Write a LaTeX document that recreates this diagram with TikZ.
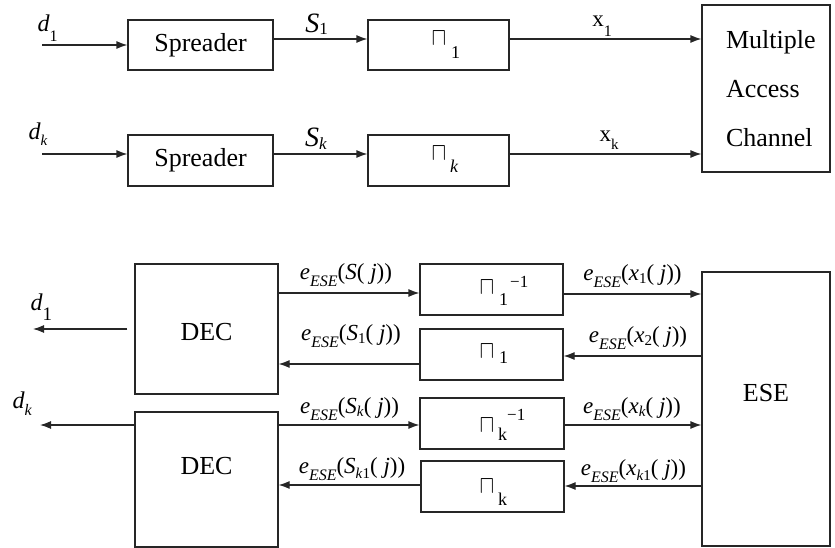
\documentclass[tikz,border=0pt]{standalone}
\usepackage{graphicx}
\usepackage{fontspec}
\setmainfont{Liberation Serif}
\usetikzlibrary{arrows.meta}

% font size shortcut
\newcommand\fsz[1]{\fontsize{#1}{#1}\selectfont}
% lowered / raised small text: distance, size, text
\newcommand\lowr[3]{\raisebox{-#1}{\fsz{#2}#3}}
\newcommand\rais[3]{\raisebox{#1}{\fsz{#2}#3}}
% text whose baseline sits at a given offset from the node centre
\newcommand\bl[2]{\raisebox{#1}[0pt][0pt]{#2}}
% interleaver symbol
\newcommand\sqc{{\fsz{10}\scalebox{2.2}[2.5]{$\sqcap$}}}
% extrinsic-information labels
\newcommand\esesub{\textit{e}\lowr{7pt}{16}{\textit{ESE}}}
\newcommand\elab[1]{\fsz{23}\esesub(#1( \textit{j}))}
% interleaver label placed at a fixed offset from the box centre
\newcommand\perm[3]{\makebox[0pt][l]{\hspace*{#1}\raisebox{-#2}[0pt][0pt]{#3}}}

\begin{document}
\begin{tikzpicture}[x=1pt,y=-1pt,
  line/.style={draw=black!85, line width=1.2pt},
  box/.style={line, rectangle, inner sep=0pt, font=\fsz{26}},
  arr/.style={line, -{Latex[length=11pt,width=8pt]}},
  lbl/.style={inner sep=0pt, anchor=base}]

\useasboundingbox (0,0) rectangle (835,548);

% ---------- transmitter ----------
\node[box, minimum width=145pt, minimum height=50pt] (sp1) at (200.5,45) {Spreader};
\node[box, minimum width=141pt, minimum height=50pt] (pi1) at (438.5,45)
  {\perm{-7pt}{1pt}{\sqc\hspace{5pt}\lowr{13pt}{18}{1}}};
\node[box, minimum width=145pt, minimum height=51pt] (spk) at (200.5,160.5) {Spreader};
\node[box, minimum width=141pt, minimum height=51pt] (pik) at (438.5,160.5)
  {\perm{-7pt}{0pt}{\sqc\hspace{4pt}\lowr{12pt}{18}{\textit{k}}}};
\node[box, minimum width=128pt, minimum height=167pt, text width=80pt, align=left,
  font=\fontsize{26}{49}\selectfont] (mac) at (766,88.5) {Multiple\\Access\\Channel};

\coordinate (d1in) at (42,45);
\draw[arr] (d1in) -- (sp1.west)
  node[lbl, pos=0, anchor=base west, xshift=-5pt, yshift=13pt] {\fsz{24}\textit{d}\lowr{10pt}{16}{1}};
\coordinate (s1a) at ([yshift=6pt]sp1.east);
\draw[arr] (s1a) -- (s1a -| pi1.west)
  node[lbl, midway, xshift=-4pt, yshift=6pt] {\fsz{28}\textit{S}\lowr{2pt}{17}{1}};
\coordinate (x1a) at ([yshift=6pt]pi1.east);
\draw[arr] (x1a) -- (x1a -| mac.west)
  node[lbl, midway, xshift=-3.5pt, yshift=12pt] {\fsz{23}x\lowr{10pt}{16}{1}};

\coordinate (dkin) at (42,154);
\draw[arr] (dkin) -- (dkin -| spk.west)
  node[lbl, pos=0, anchor=base west, xshift=-14pt, yshift=14pt] {\fsz{24}\textit{d}\lowr{6pt}{15}{\textit{k}}};
\coordinate (ska) at ([yshift=6.5pt]spk.east);
\draw[arr] (ska) -- (ska -| pik.west)
  node[lbl, midway, xshift=-4.5pt, yshift=7pt] {\fsz{28}\textit{S}\lowr{3pt}{17}{\textit{k}}};
\coordinate (xka) at ([yshift=6.5pt]pik.east);
\draw[arr] (xka) -- (xka -| mac.west)
  node[lbl, midway, xshift=3.5pt, yshift=12pt] {\fsz{23}x\lowr{8pt}{15}{k}};

% ---------- receiver ----------
\node[box, minimum width=143pt, minimum height=130pt] (dec1) at (206.5,329) {\bl{-11pt}{DEC}};
\node[box, minimum width=143pt, minimum height=135pt] (deck) at (206.5,479.5) {\bl{5.5pt}{DEC}};
\node[box, minimum width=143pt, minimum height=51pt] (pinv1) at (491.5,289.5)
  {\perm{-12pt}{5.5pt}{\sqc\hspace{5pt}\lowr{10pt}{18}{1}\rais{8pt}{17}{\hspace{2pt}−1}}};
\node[box, minimum width=143pt, minimum height=51pt] (pb1) at (491.5,354.5)
  {\perm{-12pt}{3.5pt}{\sqc\hspace{5pt}\lowr{5pt}{18}{1}}};
\node[box, minimum width=144pt, minimum height=51pt] (pinvk) at (492,423.5)
  {\perm{-12.5pt}{8.5pt}{\sqc\hspace{4pt}\lowr{8pt}{18}{k}\rais{12pt}{17}{−1}}};
\node[box, minimum width=143pt, minimum height=51pt] (pbk) at (492.5,486.5)
  {\perm{-13pt}{6.5pt}{\sqc\hspace{4pt}\lowr{12pt}{18}{k}}};
\node[box, minimum width=128pt, minimum height=274pt] (ese) at (766,409) {\bl{7.5pt}{ESE}};

\coordinate (d1out) at (33,329);
\draw[arr] ([xshift=-7pt]dec1.west) -- (d1out)
  node[lbl, pos=1, anchor=base west, xshift=-3pt, yshift=19pt] {\fsz{24}\textit{d}\lowr{10pt}{19}{1}};
\coordinate (dkout) at (40,425);
\draw[arr] ([yshift=54.5pt]deck.west) -- (dkout)
  node[lbl, pos=1, anchor=base west, xshift=-28pt, yshift=17pt] {\fsz{24}\textit{d}\lowr{7pt}{16}{\textit{k}}};

\coordinate (es1) at ([yshift=36pt]dec1.east);
\draw[arr] (es1) -- (es1 -| pinv1.west)
  node[lbl, midway, xshift=-3pt, yshift=14pt] {\elab{\textit{S}}};
\coordinate (es2) at ([yshift=-9.5pt]pb1.west);
\draw[arr] (es2) -- (es2 -| dec1.east)
  node[lbl, midway, xshift=2pt, yshift=24pt] {\elab{\textit{S}\lowr{3pt}{15}{1}}};
\coordinate (es3) at ([yshift=54.5pt]deck.east);
\draw[arr] (es3) -- (es3 -| pinvk.west)
  node[lbl, midway, xshift=0.5pt, yshift=12pt] {\elab{\textit{S}\lowr{3pt}{15}{\textit{k}}}};
\coordinate (es4) at ([yshift=1.5pt]pbk.west);
\draw[arr] (es4) -- (es4 -| deck.east)
  node[lbl, midway, xshift=2.5pt, yshift=12pt] {\elab{\textit{S}\lowr{5pt}{15}{\textit{k}1}}};

\coordinate (ex1) at ([yshift=-4.5pt]pinv1.east);
\draw[arr] (ex1) -- (ex1 -| ese.west)
  node[lbl, midway, yshift=14pt] {\elab{\textit{x}\lowr{3pt}{15}{1}}};
\coordinate (ex2) at ([yshift=-1.5pt]pb1.east);
\draw[arr] (ex2 -| ese.west) -- (ex2)
  node[lbl, midway, xshift=5.5pt, yshift=14pt] {\elab{\textit{x}\lowr{3pt}{15}{2}}};
\coordinate (ex3) at ([yshift=-1.5pt]pinvk.east);
\draw[arr] (ex3) -- (ex3 -| ese.west)
  node[lbl, midway, xshift=-1pt, yshift=12pt] {\elab{\textit{x}\lowr{3pt}{15}{\textit{k}}}};
\coordinate (ex4) at ([yshift=0.5pt]pbk.east);
\draw[arr] (ex4 -| ese.west) -- (ex4)
  node[lbl, midway, xshift=0.5pt, yshift=11pt] {\elab{\textit{x}\lowr{5pt}{15}{\textit{k}1}}};

\end{tikzpicture}
\end{document}
